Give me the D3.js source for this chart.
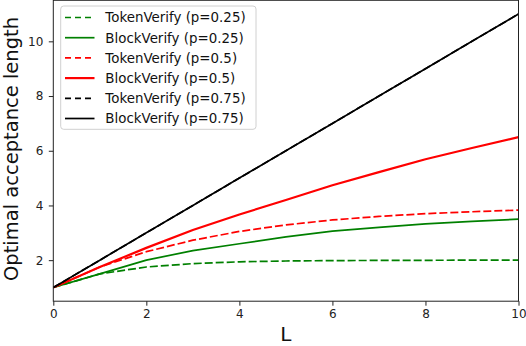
<!DOCTYPE html>
<html>
<head>
<meta charset="utf-8">
<script src="https://cdn.jsdelivr.net/npm/d3@7"></script>
<style>
  body { margin: 0; background: #fff; }
  svg text { font-family: "DejaVu Sans", sans-serif; }
</style>
</head>
<body>
<svg id="chart" width="526" height="346"></svg>
<script>
const Ls = [0, 1, 2, 3, 4, 5, 6, 7, 8, 9, 10];
const tokenVerify025 = [1, 1.5, 1.75, 1.875, 1.94, 1.97, 1.985, 1.99, 1.995, 2.0, 2.0];
const blockVerify025 = [1, 1.5, 2.0, 2.35, 2.6, 2.85, 3.06, 3.2, 3.33, 3.42, 3.5];
const tokenVerify05  = [1, 1.75, 2.31, 2.73, 3.05, 3.29, 3.47, 3.6, 3.7, 3.77, 3.83];
const blockVerify05  = [1, 1.75, 2.45, 3.1, 3.67, 4.2, 4.74, 5.22, 5.69, 6.1, 6.5];
const tokenVerify075 = [1, 2, 3, 4, 5, 6, 7, 8, 9, 10, 11];
const blockVerify075 = [1, 2, 3, 4, 5, 6, 7, 8, 9, 10, 11];
const seriesNames = ["TokenVerify (p=0.25)", "BlockVerify (p=0.25)", "TokenVerify (p=0.5)", "BlockVerify (p=0.5)", "TokenVerify (p=0.75)", "BlockVerify (p=0.75)"];
const xTicks = [0, 2, 4, 6, 8, 10];
const yTicks = [2, 4, 6, 8, 10];

(function () {
const series = [
  {name: seriesNames[0], values: tokenVerify025, color: "green", dash: "8,3", width: 1.7},
  {name: seriesNames[1], values: blockVerify025, color: "green", dash: null, width: 1.7},
  {name: seriesNames[2], values: tokenVerify05, color: "red", dash: "8,3", width: 1.7},
  {name: seriesNames[3], values: blockVerify05, color: "red", dash: null, width: 2.2},
  {name: seriesNames[4], values: tokenVerify075, color: "black", dash: "8,3", width: 1.7},
  {name: seriesNames[5], values: blockVerify075, color: "black", dash: null, width: 1.7}
];

const svg = d3.select("#chart");
const mLeft = 53.3, mRight = 518.5, mTop = 0.3, mBottom = 301.2;
const x = d3.scaleLinear().domain([0, 10]).range([mLeft, mRight]);
const y = d3.scaleLinear().domain([0.5, 11.5]).range([mBottom, mTop]);

svg.append("defs").append("clipPath").attr("id", "plotclip")
  .append("rect").attr("x", mLeft).attr("y", mTop).attr("width", mRight - mLeft).attr("height", mBottom - mTop);

const line = d3.line().x((d, i) => x(Ls[i])).y(d => y(d));
const g = svg.append("g").attr("clip-path", "url(#plotclip)");
series.forEach(s => {
  g.append("path").datum(s.values)
    .attr("d", line)
    .attr("fill", "none")
    .attr("stroke", s.color)
    .attr("stroke-width", s.width)
    .attr("stroke-dasharray", s.dash)
    .attr("stroke-linejoin", "round");
});

const xAxis = d3.axisBottom(x).tickValues(xTicks).tickSize(4.5).tickPadding(4).tickFormat(d3.format("d"));
const yAxis = d3.axisLeft(y).tickValues(yTicks).tickSize(4.5).tickPadding(5.5).tickFormat(d3.format("d"));
const gx = svg.append("g").attr("transform", `translate(0,${mBottom})`).call(xAxis);
const gy = svg.append("g").attr("transform", `translate(${mLeft},0)`).call(yAxis);
[gx, gy].forEach(a => {
  a.select(".domain").remove();
  a.selectAll("line").attr("stroke", "#222").attr("stroke-width", 1);
  a.selectAll("text").attr("font-size", 12).attr("fill", "#222").attr("font-family", "DejaVu Sans");
});

svg.append("rect").attr("x", mLeft).attr("y", mTop).attr("width", mRight - mLeft).attr("height", mBottom - mTop)
  .attr("fill", "none").attr("stroke", "#222").attr("stroke-width", 1);

svg.append("text").attr("x", (mLeft + mRight) / 2).attr("y", 341)
  .attr("text-anchor", "middle").attr("font-size", 20).attr("fill", "#111").text("L");
svg.append("text").attr("transform", "translate(17.5,149) rotate(-90)")
  .attr("text-anchor", "middle").attr("font-size", 19.5).attr("fill", "#111").text("Optimal acceptance length");

const lg = svg.append("g");
lg.append("rect").attr("x", 60.7).attr("y", 6).attr("width", 195.3).attr("height", 123.3)
  .attr("rx", 3).attr("fill", "white").attr("fill-opacity", 0.8).attr("stroke", "#d0d0d0").attr("stroke-width", 1);
series.forEach((s, i) => {
  const cy = 17.5 + i * 20.2;
  lg.append("line").attr("x1", 65).attr("x2", 94.5).attr("y1", cy).attr("y2", cy)
    .attr("stroke", s.color).attr("stroke-width", s.width).attr("stroke-dasharray", s.dash ? "6,4" : null);
  lg.append("text").attr("x", 105.3).attr("y", cy + 4.8).attr("font-size", 13.4).attr("fill", "#111").text(s.name);
});
})();
</script>
</body>
</html>
